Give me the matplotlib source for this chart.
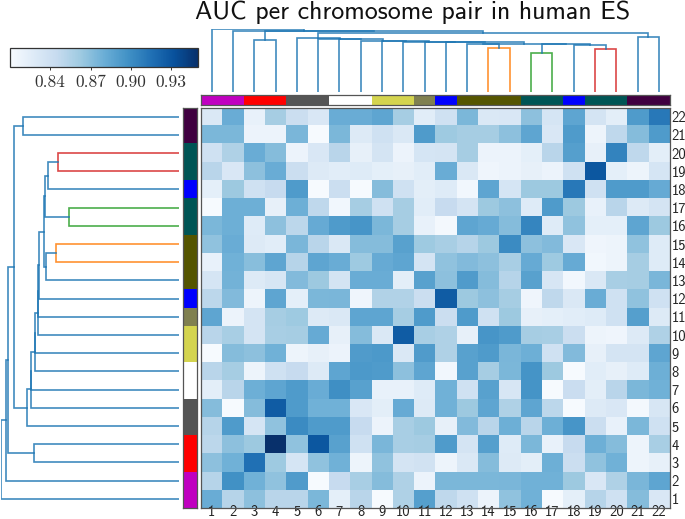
"""Clustered heatmap of AUC per chromosome pair."""

import matplotlib
matplotlib.use("Agg")
import matplotlib.pyplot as plt
import numpy as np
from matplotlib.colors import ListedColormap

W, H = 685, 519

chromosomes = [str(i) for i in range(1, 23)]

# rows from chromosome 22 (top) down to chromosome 1, columns 1..22
row_22 = [.830,.881,.820,.859,.841,.831,.881,.881,.885,.859,.825,.838,.874,.830,.831,.868,.834,.885,.835,.824,.892,.911]
row_21 = [.874,.874,.818,.818,.875,.811,.874,.828,.838,.830,.892,.862,.859,.859,.868,.885,.831,.892,.817,.848,.871,.892]
row_20 = [.838,.855,.881,.871,.818,.831,.851,.821,.835,.818,.834,.835,.859,.818,.818,.823,.851,.889,.821,.905,.848,.824]
row_19 = [.851,.831,.868,.881,.841,.828,.825,.827,.823,.821,.825,.881,.830,.816,.818,.821,.818,.838,.929,.823,.817,.834]
row_18 = [.823,.863,.838,.844,.892,.811,.841,.811,.871,.838,.824,.827,.814,.885,.834,.863,.863,.911,.838,.892,.892,.882]
row_17 = [.811,.879,.879,.821,.879,.848,.814,.859,.838,.859,.825,.844,.835,.863,.868,.827,.892,.863,.820,.851,.828,.835]
row_16 = [.874,.879,.827,.868,.849,.882,.892,.895,.874,.859,.820,.813,.885,.882,.871,.904,.827,.867,.823,.823,.885,.863]
row_15 = [.867,.881,.828,.825,.875,.851,.830,.871,.871,.888,.862,.858,.852,.863,.901,.868,.872,.831,.816,.817,.867,.827]
row_14 = [.820,.878,.870,.885,.852,.885,.881,.862,.882,.885,.835,.867,.872,.868,.858,.882,.862,.882,.814,.817,.859,.827]
row_13 = [.834,.877,.828,.832,.872,.863,.835,.881,.881,.824,.888,.868,.891,.871,.852,.888,.832,.814,.830,.858,.859,.875]
row_12 = [.849,.872,.817,.885,.823,.874,.875,.816,.854,.854,.841,.926,.863,.868,.859,.816,.848,.830,.881,.838,.867,.838]
row_11 = [.885,.818,.835,.859,.862,.828,.830,.885,.885,.859,.892,.841,.892,.838,.863,.821,.823,.825,.827,.838,.889,.828]
row_10 = [.851,.858,.835,.858,.859,.882,.821,.871,.830,.926,.858,.855,.821,.895,.892,.859,.858,.841,.817,.816,.828,.855]
row_9  = [.811,.871,.868,.878,.817,.821,.818,.891,.893,.830,.891,.855,.888,.892,.875,.879,.838,.872,.821,.835,.835,.885]
row_8  = [.851,.859,.817,.838,.844,.828,.885,.893,.892,.868,.885,.814,.888,.859,.874,.896,.863,.811,.825,.821,.827,.879]
row_7  = [.824,.851,.879,.885,.892,.881,.899,.888,.820,.820,.827,.878,.838,.888,.832,.896,.811,.842,.824,.851,.874,.878]
row_6  = [.871,.811,.871,.926,.892,.878,.878,.831,.824,.882,.828,.878,.863,.885,.855,.885,.849,.811,.828,.831,.813,.832]
row_5  = [.852,.892,.834,.867,.901,.892,.892,.844,.818,.858,.863,.821,.872,.851,.879,.851,.879,.895,.841,.820,.874,.838]
row_4  = [.849,.868,.863,.950,.867,.929,.888,.838,.875,.858,.859,.892,.835,.889,.827,.874,.820,.844,.879,.871,.817,.858]
row_3  = [.868,.878,.915,.862,.834,.867,.878,.817,.867,.835,.837,.817,.830,.871,.828,.824,.879,.841,.867,.878,.817,.821]
row_2  = [.852,.898,.878,.867,.891,.811,.844,.858,.871,.855,.818,.874,.874,.874,.875,.878,.878,.863,.831,.855,.875,.885]
row_1  = [.881,.852,.868,.851,.851,.874,.823,.851,.811,.855,.889,.848,.838,.818,.867,.878,.811,.823,.852,.838,.871,.831]

auc_rows = [row_22, row_21, row_20, row_19, row_18, row_17, row_16, row_15, row_14, row_13, row_12,
            row_11, row_10, row_9, row_8, row_7, row_6, row_5, row_4, row_3, row_2, row_1]

cbar_ticks = [0.84, 0.87, 0.90, 0.93]

# colour of each chromosome in the side strips
group_colors = ["#c000c0", "#c000c0", "#ff0000", "#ff0000", "#555555", "#555555", "#ffffff", "#ffffff",
                "#d4d44f", "#d4d44f", "#808050", "#0000ff", "#555500", "#555500", "#555500", "#005555",
                "#005555", "#0000ff", "#005555", "#005555", "#400040", "#400040"]

# merges: leaves are 0..21, merge k makes node 22 + k
link_left   = [13, 15, 18, 17, 23, 12, 27, 11, 10,  9,  8,  7,  6,  5,  4, 20, 36,  2, 39,  1,  0]
link_right  = [14, 16, 19, 24, 25, 22, 26, 28, 29, 30, 31, 32, 33, 34, 35, 21, 37,  3, 38, 40, 41]
link_height = [3.70, 3.30, 3.63, 3.93, 4.04, 4.01, 4.05, 4.20, 4.23, 4.23, 4.32, 4.34, 4.45, 4.45,
               4.57, 4.68, 4.96, 4.35, 5.14, 5.19, 5.35]
link_color  = ["#ff7f0e", "#2ca02c", "#d62728"] + ["#1f77b4"] * 18


def box(x0, y0, x1, y1):
    """Axes rectangle from pixel edges, y counted from the top."""
    return [x0 / W, 1 - y1 / H, (x1 - x0) / W, (y1 - y0) / H]


def draw_tree(ax, vertical):
    """Draw the linkage as U shapes, leaves at the chromosome centres."""
    pos = {i: i + 0.5 for i in range(len(chromosomes))}
    hgt = {i: 0.0 for i in range(len(chromosomes))}
    for k in range(len(link_left)):
        a, b = link_left[k], link_right[k]
        h = link_height[k]
        xs = [pos[a], pos[a], pos[b], pos[b]]
        ys = [hgt[a], h, h, hgt[b]]
        if vertical:
            ax.plot(xs, ys, color=link_color[k], lw=1.2, alpha=0.85, solid_joinstyle="miter")
        else:
            ax.plot(ys, xs, color=link_color[k], lw=1.2, alpha=0.85, solid_joinstyle="miter")
        pos[22 + k] = (pos[a] + pos[b]) / 2
        hgt[22 + k] = h
    ax.axis("off")


plt.rcParams["axes.unicode_minus"] = False
fig = plt.figure(figsize=(W / 100, H / 100), dpi=100)

# heatmap
matrix = np.array(auc_rows)[::-1]
ax = fig.add_axes(box(201, 107.5, 669.5, 508))
im = ax.imshow(matrix, cmap="Blues", vmin=0.81, vmax=0.95, origin="lower", aspect="auto",
               interpolation="nearest")
ax.set_xticks(range(22), chromosomes, family="cmss10", fontsize=10.5, color="#222222")
ax.yaxis.tick_right()
ax.set_yticks(range(22), chromosomes, family="cmss10", fontsize=10.5, color="#222222")
ax.tick_params(axis="x", length=0, pad=-2.5)
ax.tick_params(axis="y", length=0, pad=1.5)
for s in ax.spines.values():
    s.set_color("#555555")
    s.set_linewidth(0.9)

# group strips
strip = ListedColormap(group_colors)
idx = np.arange(22)
top = fig.add_axes(box(201, 95, 669.5, 105))
top.imshow(idx[None, :], cmap=strip, aspect="auto", interpolation="nearest")
top.set_xticks([])
top.set_yticks([])
left = fig.add_axes(box(183, 107.5, 197, 508))
left.imshow(idx[:, None], cmap=strip, aspect="auto", interpolation="nearest", origin="lower")
left.set_xticks([])
left.set_yticks([])
for a in (top, left):
    for s in a.spines.values():
        s.set_color("#555555")
        s.set_linewidth(0.9)

# dendrograms
tree_top = fig.add_axes(box(201, 28.7, 669.5, 91.7))
draw_tree(tree_top, True)
tree_top.set_xlim(0, 22)
tree_top.set_ylim(0, 5.35)
tree_left = fig.add_axes(box(1, 107.5, 179, 508))
draw_tree(tree_left, False)
tree_left.set_xlim(5.35, 0)
tree_left.set_ylim(0, 22)

# colour bar
cax = fig.add_axes(box(10, 47.5, 198, 67))
cb = fig.colorbar(im, cax=cax, orientation="horizontal", ticks=cbar_ticks)
cb.ax.set_xticklabels([f"{t:.2f}" for t in cbar_ticks], family="cmr10", fontsize=12.5, color="#333333")
cb.ax.tick_params(length=2.5, width=0.7, pad=3, color="#333333")
cb.outline.set_edgecolor("#333333")
cb.outline.set_linewidth(0.9)

fig.text(413 / W, 1 - 12 / H, "AUC per chromosome pair in human ES", family="cmss10", fontsize=18.7,
         ha="center", va="center", color="#111111")

fig.savefig("out.png", dpi=100)
